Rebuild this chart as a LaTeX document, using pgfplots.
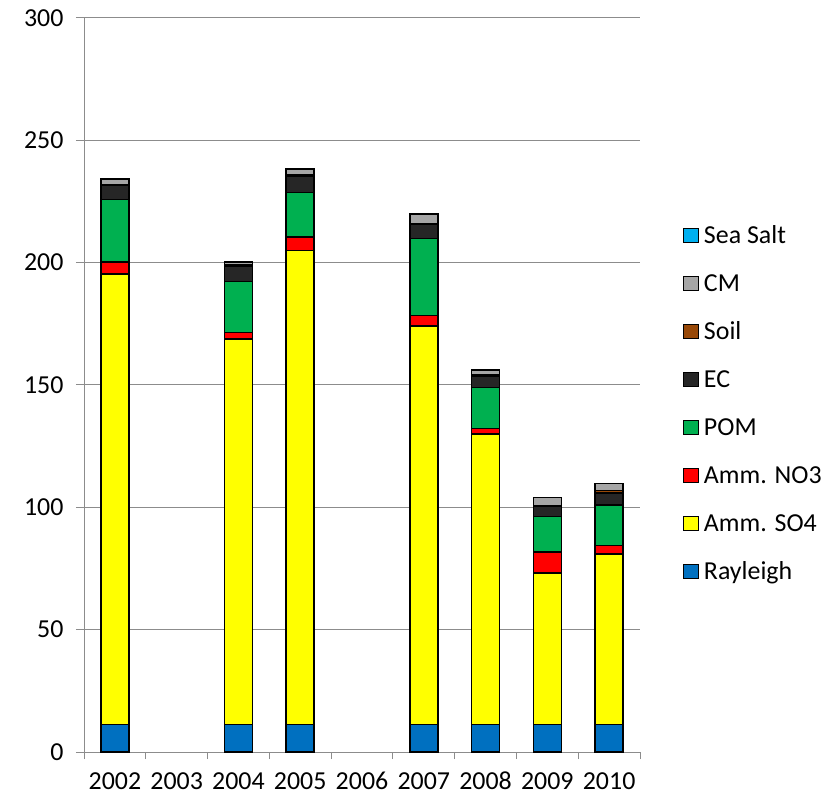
\documentclass[border=0pt]{standalone}
\usepackage{pgfplots}
\pgfplotsset{compat=1.18}
\usepackage{pgfplotstable}
\usepackage{fontspec}
\setmainfont{Carlito}
\definecolor{cRay}{HTML}{0070C0}
\definecolor{cSO4}{HTML}{FFFF00}
\definecolor{cNO3}{HTML}{FF0000}
\definecolor{cPOM}{HTML}{00B050}
\definecolor{cEC}{HTML}{262626}
\definecolor{cSoil}{HTML}{984807}
\definecolor{cCM}{HTML}{A6A6A6}
\definecolor{cSalt}{HTML}{00B0F0}
\definecolor{cGrid}{HTML}{8C8C8C}
\pgfplotstableread{
x ray so4 no3 pom ec soil cm salt
0 11.3 184.1 4.9 25.6 5.6 0.5 2.0 0.1
2 11.3 157.6 2.6 20.7 6.4 0.4 1.3 0.1
3 11.3 193.6 5.5 18.3 6.8 0.4 2.4 0.1
5 11.3 162.8 4.4 31.3 5.9 0.4 3.8 0.1
6 11.3 118.7 2.3 16.7 4.4 0.6 2.2 0.1
7 11.3 61.9 8.5 14.5 4.1 0.4 3.3 0.1
8 11.3 69.6 3.4 16.6 4.9 1.0 2.9 0.1
}\datatable
\begin{document}
\begin{tikzpicture}[x=1bp,y=1bp]
\useasboundingbox (-84bp,-47bp) rectangle (752bp,752bp);
\begin{axis}[
  at={(0,0)}, anchor=south west,
  scale only axis,
  width=556bp, height=734bp,
  ybar stacked,
  bar width=28bp,
  xmin=-0.5, xmax=8.5,
  ymin=0, ymax=300,
  ytick={0,50,...,300},
  xtick={0,...,8},
  xticklabels={2002,2003,2004,2005,2006,2007,2008,2009,2010},
  minor xtick={-0.5,0.5,...,8.5},
  major x tick style={draw=none},
  minor x tick style={draw=cGrid, line width=1pt},
  minor tick length=7bp,
  major tick length=8bp,
  y tick style={draw=cGrid, line width=1pt},
  tick align=outside,
  axis x line*=bottom, axis y line*=left,
  axis line style={draw=cGrid, line width=1pt, -},
  ymajorgrids, major grid style={draw=cGrid, line width=1pt},
  /pgf/number format/assume math mode=true,
  tick label style={font=\fontsize{26}{30}\selectfont, text=black},
  xticklabel style={yshift=-9bp, text height=17bp, text depth=0pt},
  yticklabel style={xshift=-9bp},
  every axis plot/.append style={draw=black, line width=1.5pt},
  legend style={draw=none, fill=none, at={(1.0773,0.4748)}, anchor=west,
    inner sep=0pt, font=\fontsize{26}{30}\selectfont, row sep=27.8bp,
    nodes={text height=18.5bp, text depth=1.7bp, inner ysep=0bp, inner xsep=5bp}},
  legend cell align=left,
  reverse legend,
  legend image code/.code={\draw[#1, line width=0.8pt] (0bp,-7.2bp) rectangle (15bp,7.2bp);},
]
\addplot[fill=cRay] table[x=x,y=ray]{\datatable};
\addlegendentry{Rayleigh}
\addplot[fill=cSO4] table[x=x,y=so4]{\datatable};
\addlegendentry{Amm. SO4}
\addplot[fill=cNO3] table[x=x,y=no3]{\datatable};
\addlegendentry{Amm. NO3}
\addplot[fill=cPOM] table[x=x,y=pom]{\datatable};
\addlegendentry{POM}
\addplot[fill=cEC] table[x=x,y=ec]{\datatable};
\addlegendentry{EC}
\addplot[fill=cSoil] table[x=x,y=soil]{\datatable};
\addlegendentry{Soil}
\addplot[fill=cCM] table[x=x,y=cm]{\datatable};
\addlegendentry{CM}
\addplot[fill=cSalt] table[x=x,y=salt]{\datatable};
\addlegendentry{Sea Salt}
\end{axis}
\end{tikzpicture}
\end{document}
